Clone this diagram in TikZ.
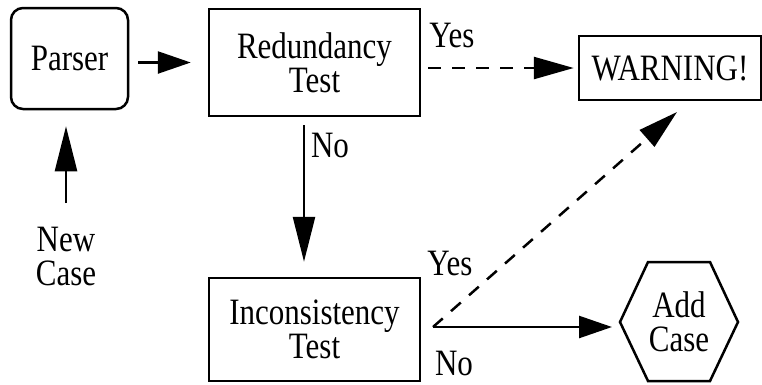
\documentclass[tikz,border=0pt]{standalone}
\usepackage{fontspec}
\setmainfont{Liberation Serif}
\usepackage{graphicx}
\usetikzlibrary{arrows.meta}
\newcommand{\tall}[1]{\scalebox{1}[1.2]{#1}}
\begin{document}
\begin{tikzpicture}[x=1pt,y=-1pt,
  lw/.style={line width=2.5pt},
  box/.style={draw, line width=2.5pt, inner sep=0pt, align=center,
    font=\fontsize{31}{34}\selectfont\lineskiplimit-100pt},
  lbl/.style={inner sep=0pt, align=center,
    font=\fontsize{31}{34}\selectfont\lineskiplimit-100pt},
  harrow/.style={line width=2.5pt, -{Triangle[length=33pt,width=22pt]}},
  varrow/.style={line width=2.5pt, -{Triangle[length=45pt,width=22pt]}},
  darrow/.style={line width=2.5pt, dash pattern=on 13pt off 11pt, -{Triangle[length=40pt,width=22pt]}},
]
\useasboundingbox (0,0) rectangle (762,384);
% boxes
\node[box, rounded corners=12pt, minimum width=117pt, minimum height=101pt] (parser) at (69.5,58.5) {\tall{Parser}};
\node[box, minimum width=211pt, minimum height=107pt] (red) at (314.5,62.5) {\tall{Redundancy}\\\tall{Test}};
\node[box, minimum width=211pt, minimum height=103pt] (inc) at (314.5,329.5) {\tall{Inconsistency}\\\tall{Test}};
\node[box, minimum width=182pt, minimum height=64pt] (warn) at (670,68) {\tall{WARNING!}};
\node[lbl] (add) at (679,322) {\tall{Add}\\\tall{Case}};
\draw[lw, line join=miter, shift={(add.center)}] (-59,0) -- (-31,-60) -- (31,-60) -- (59,0) -- (31,59) -- (-31,59) -- cycle;
\coordinate (hexL) at ([xshift=-59pt]add.center);
% labels
\node[lbl] (newcase) at (66,256) {\tall{New}\\\tall{Case}};
\node[lbl] (yes1) at (452,35) {\tall{Yes}};
\node[lbl] (no1) at (330,145) {\tall{No}};
\node[lbl] (yes2) at (450,263) {\tall{Yes}};
\node[lbl] (no2) at (454,363) {\tall{No}};
% connectors
\coordinate (nstart) at (66,203);
\coordinate (split) at (433,327);
\coordinate (wtip) at (677,112);
\draw[varrow, shorten >=16pt] (nstart) -- (nstart |- parser.south);
\draw[harrow, shorten <=9pt, shorten >=17pt] (parser.east |- red.west) -- (red.west);
\draw[varrow, shorten <=8pt, shorten >=15pt] ([xshift=-10.5pt]red.south) -- ([xshift=-10.5pt]inc.north);
\draw[darrow, shorten <=7pt, shorten >=4pt] (red.east |- warn.west) -- (warn.west);
\draw[harrow, shorten >=8pt] (split) -- (split -| hexL);
\draw[darrow] (split) -- (wtip);
\end{tikzpicture}
\end{document}
